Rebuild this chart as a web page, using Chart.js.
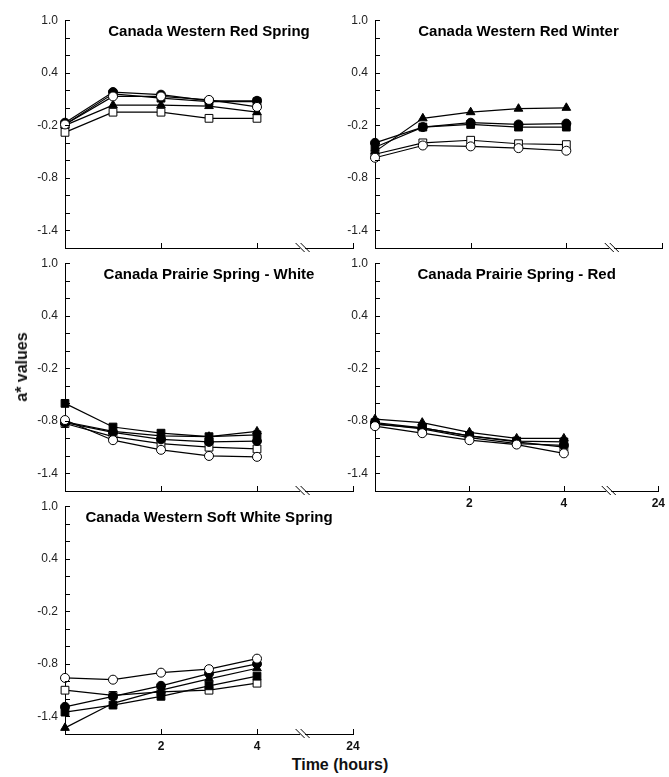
<!DOCTYPE html>
<html>
<head>
<meta charset="utf-8">
<script src="https://cdn.jsdelivr.net/npm/chart.js@4/dist/chart.umd.min.js"></script>
<style>
  body { margin: 0; background: #fff; width: 669px; height: 777px; overflow: hidden; position: relative;
         font-family: "Liberation Sans", Arial, sans-serif; }
  canvas { position: absolute; }
  .axis-title { position: absolute; font-weight: bold; font-size: 16px; color: #111; white-space: nowrap; }
  #ytitle { left: 22px; top: 367px; transform: translate(-50%, -50%) rotate(-90deg); }
  #xtitle { left: 340px; top: 765px; transform: translate(-50%, -50%); }
</style>
</head>
<body>
<canvas id="cwrs"  width="345" height="264" style="left:20px;top:6px"></canvas>
<canvas id="cwrw"  width="340" height="264" style="left:330px;top:6px"></canvas>
<canvas id="cpsw"  width="345" height="264" style="left:20px;top:249px"></canvas>
<canvas id="cpsr"  width="340" height="264" style="left:330px;top:249px"></canvas>
<canvas id="cwsws" width="345" height="264" style="left:20px;top:492px"></canvas>
<div class="axis-title" id="ytitle">a* values</div>
<div class="axis-title" id="xtitle">Time (hours)</div>

<script>
// Sampling times (hours); the axis is broken after 4 h and ends at 24 h
const hours = [0, 1, 2, 3, 4];
const xTickValues = [2, 4, 6];      // 6 is where the 24 h tick sits after the break
const xTickLabels = ['2', '4', '24'];
const breakAt = 4.95;

const yTickValues = [1.0, 0.8, 0.6, 0.4, 0.2, 0, -0.2, -0.4, -0.6, -0.8, -1.0, -1.2, -1.4];
const yTickLabels = ['1.0', '0.4', '-0.2', '-0.8', '-1.4'];

const panelTitles = [
    'Canada Western Red Spring',
    'Canada Western Red Winter',
    'Canada Prairie Spring - White',
    'Canada Prairie Spring - Red',
    'Canada Western Soft White Spring'
];

// Canada Western Red Spring
const cwrsOpenCircle   = [-0.19, 0.13, 0.13, 0.09, 0.01];
const cwrsClosedCircle = [-0.17, 0.18, 0.15, 0.08, 0.08];
const cwrsTriangle     = [-0.20, 0.03, 0.03, 0.02, -0.05];
const cwrsClosedSquare = [-0.19, 0.16, 0.11, 0.07, 0.07];
const cwrsOpenSquare   = [-0.28, -0.05, -0.05, -0.12, -0.12];

// Canada Western Red Winter
const cwrwOpenCircle   = [-0.57, -0.43, -0.44, -0.46, -0.49];
const cwrwClosedCircle = [-0.40, -0.22, -0.17, -0.19, -0.18];
const cwrwTriangle     = [-0.50, -0.12, -0.05, -0.01, 0.00];
const cwrwClosedSquare = [-0.45, -0.22, -0.19, -0.22, -0.22];
const cwrwOpenSquare   = [-0.53, -0.40, -0.37, -0.41, -0.42];

// Canada Prairie Spring - White
const cpswOpenCircle   = [-0.79, -1.02, -1.13, -1.20, -1.21];
const cpswClosedCircle = [-0.82, -0.93, -1.01, -1.04, -1.03];
const cpswTriangle     = [-0.81, -0.92, -0.97, -0.98, -0.92];
const cpswClosedSquare = [-0.60, -0.87, -0.94, -0.98, -0.96];
const cpswOpenSquare   = [-0.83, -0.98, -1.06, -1.10, -1.12];

// Canada Prairie Spring - Red
const cpsrOpenCircle   = [-0.86, -0.94, -1.02, -1.07, -1.17];
const cpsrClosedCircle = [-0.83, -0.89, -0.99, -1.06, -1.08];
const cpsrTriangle     = [-0.78, -0.82, -0.93, -1.00, -1.00];
const cpsrClosedSquare = [-0.82, -0.88, -0.97, -1.03, -1.04];
const cpsrOpenSquare   = [-0.84, -0.88, -0.97, -1.04, -1.10];

// Canada Western Soft White Spring
const cwswsOpenCircle   = [-0.96, -0.98, -0.90, -0.86, -0.74];
const cwswsClosedCircle = [-1.29, -1.17, -1.05, -0.91, -0.80];
const cwswsTriangle     = [-1.53, -1.25, -1.10, -0.97, -0.85];
const cwswsClosedSquare = [-1.35, -1.27, -1.17, -1.05, -0.94];
const cwswsOpenSquare   = [-1.10, -1.16, -1.12, -1.10, -1.02];

const FONT = '"Liberation Sans", Arial, sans-serif';

// marker look for each of the five series, in the same order as the arrays
const markers = [
    { pointStyle: 'circle',   bg: '#fff', radius: 4.5 },
    { pointStyle: 'circle',   bg: '#000', radius: 4.5 },
    { pointStyle: 'triangle', bg: '#000', radius: 5 },
    { pointStyle: 'rect',     bg: '#000', radius: 5.5 },
    { pointStyle: 'rect',     bg: '#fff', radius: 5.5 }
];

// inward tick marks, the // break on the time axis, and the panel title
const axisMarks = {
    id: 'axisMarks',
    afterDraw(chart, args, opts) {
        const { ctx, chartArea, scales: { x, y } } = chart;
        ctx.save();
        ctx.strokeStyle = '#000';
        ctx.lineWidth = 1;
        ctx.beginPath();
        y.ticks.forEach(t => {
            const py = Math.round(y.getPixelForValue(t.value)) + 0.5;
            ctx.moveTo(chartArea.left, py);
            ctx.lineTo(chartArea.left + 5, py);
        });
        x.ticks.forEach(t => {
            const px = Math.round(x.getPixelForValue(t.value)) + 0.5;
            ctx.moveTo(px, chartArea.bottom);
            ctx.lineTo(px, chartArea.bottom - 5);
        });
        ctx.stroke();

        const bx = x.getPixelForValue(breakAt);
        const by = chartArea.bottom;
        ctx.fillStyle = '#fff';
        ctx.fillRect(bx - 2.5, by - 2, 5, 4);
        ctx.beginPath();
        [-2.5, 2.5].forEach(d => {
            ctx.moveTo(bx + d - 4.5, by - 5);
            ctx.lineTo(bx + d + 4.5, by + 4);
        });
        ctx.stroke();

        ctx.font = 'bold 15px ' + FONT;
        ctx.fillStyle = '#000';
        ctx.textAlign = 'center';
        ctx.textBaseline = 'middle';
        ctx.fillText(opts.title, (chartArea.left + chartArea.right) / 2, chartArea.top + 12);
        ctx.restore();
    }
};

function makePanel(canvasId, title, series, showX, rightPad) {
    const ctx = document.getElementById(canvasId).getContext('2d');
    new Chart(ctx, {
        type: 'line',
        data: {
            datasets: series.map((values, i) => ({
                data: hours.map((h, j) => ({ x: h, y: values[j] })),
                borderColor: '#000',
                borderWidth: 1.2,
                pointStyle: markers[i].pointStyle,
                pointBackgroundColor: markers[i].bg,
                pointBorderColor: '#000',
                pointBorderWidth: 1,
                pointRadius: markers[i].radius,
                tension: 0,
                clip: false
            }))
        },
        options: {
            responsive: false,
            animation: false,
            events: [],
            layout: { padding: { top: 6, right: rightPad, left: 0, bottom: 0 } },
            plugins: {
                legend: { display: false },
                tooltip: { enabled: false },
                axisMarks: { title: title }
            },
            scales: {
                x: {
                    type: 'linear',
                    min: 0,
                    max: 6,
                    afterBuildTicks: s => { s.ticks = xTickValues.map(v => ({ value: v })); },
                    afterFit: s => { s.height = 22; },
                    grid: { display: true, drawOnChartArea: false, drawTicks: false },
                    border: { display: true, color: '#000', width: 1 },
                    ticks: {
                        display: showX,
                        padding: 5,
                        color: '#111',
                        font: { family: FONT, size: 12, weight: 'bold' },
                        callback: v => xTickLabels[xTickValues.indexOf(v)]
                    }
                },
                y: {
                    min: -1.6,
                    max: 1.0,
                    afterBuildTicks: s => { s.ticks = yTickValues.map(v => ({ value: v })); },
                    afterFit: s => { s.width = 45; },
                    grid: { display: true, drawOnChartArea: false, drawTicks: false },
                    border: { display: true, color: '#000', width: 1 },
                    ticks: {
                        padding: 7,
                        color: '#222',
                        font: { family: FONT, size: 12 },
                        callback: v => {
                            const s = Number(v).toFixed(1);
                            return yTickLabels.includes(s) ? s : '';
                        }
                    }
                }
            }
        },
        plugins: [axisMarks]
    });
}

makePanel('cwrs', panelTitles[0],
    [cwrsOpenCircle, cwrsClosedCircle, cwrsTriangle, cwrsClosedSquare, cwrsOpenSquare], false, 12);
makePanel('cwrw', panelTitles[1],
    [cwrwOpenCircle, cwrwClosedCircle, cwrwTriangle, cwrwClosedSquare, cwrwOpenSquare], false, 8);
makePanel('cpsw', panelTitles[2],
    [cpswOpenCircle, cpswClosedCircle, cpswTriangle, cpswClosedSquare, cpswOpenSquare], false, 12);
makePanel('cpsr', panelTitles[3],
    [cpsrOpenCircle, cpsrClosedCircle, cpsrTriangle, cpsrClosedSquare, cpsrOpenSquare], true, 8);
makePanel('cwsws', panelTitles[4],
    [cwswsOpenCircle, cwswsClosedCircle, cwswsTriangle, cwswsClosedSquare, cwswsOpenSquare], true, 12);
</script>
</body>
</html>
